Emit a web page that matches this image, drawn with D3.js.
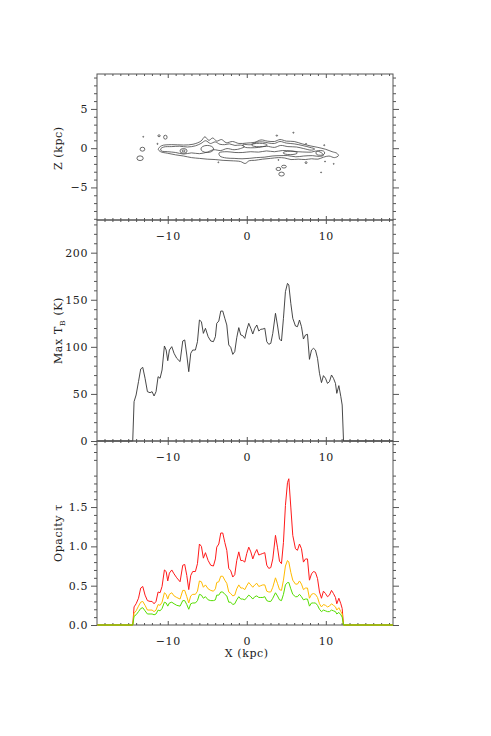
<!DOCTYPE html>
<html>
<head>
<meta charset="utf-8">
<script src="https://cdn.jsdelivr.net/npm/d3@7"></script>
<style>
    body { margin: 0; background: #fff; }
    svg text { font-family: "DejaVu Serif", "Liberation Serif", serif; fill: #222; letter-spacing: 0.6px; }
</style>
</head>
<body>
<div id="chart"></div>
<script>
// radius along the disc (kpc)
const xKpc = [-18.9,
    -14.43, -14.26, -14.0, -13.7, -13.42, -13.16, -12.87, -12.57, -12.24, -11.98,
    -11.73, -11.48, -11.22, -10.97, -10.72, -10.42, -10.2, -10.0, -9.79, -9.49,
    -9.2, -8.86, -8.44, -8.1, -7.85, -7.59, -7.34, -7.09, -6.84, -6.5,
    -6.24, -5.99, -5.74, -5.49, -5.23, -4.89, -4.56, -4.22, -3.97, -3.8,
    -3.54, -3.29, -3.04, -2.78, -2.53, -2.28, -2.03, -1.77, -1.52, -1.27,
    -1.01, -0.76, -0.51, -0.25, 0, 0.25, 0.51, 0.76, 1.01, 1.27,
    1.52, 1.77, 2.03, 2.28, 2.53, 2.78, 3.04, 3.29, 3.63, 3.88,
    4.14, 4.39, 4.64, 4.89, 5.15, 5.32, 5.57, 5.82, 6.16, 6.41,
    6.67, 6.92, 7.17, 7.43, 7.68, 7.93, 8.19, 8.44, 8.69, 8.95,
    9.2, 9.45, 9.7, 9.96, 10.21, 10.46, 10.72, 10.97, 11.22, 11.39,
    11.65, 11.9, 12.07, 12.24,
    18.5];

// max brightness temperature (K)
const maxTb = [0,
    0, 41.8, 48.9, 63, 76.5, 78.2, 66.6, 52.4, 51.3, 52.4,
    47.8, 52.4, 68.3, 66.6, 75.4, 100.9, 96.6, 85.3, 96.6, 100.2,
    93.1, 87.8, 84.3, 106.2, 107.3, 91.3, 73.6, 93.1, 96.6, 96.6,
    105.5, 128.5, 126.7, 114.3, 119.7, 110.8, 106.2, 105.5, 110.8, 125,
    127.4, 138, 138, 130.3, 123.2, 102, 99.5, 92, 94.9, 109.7,
    120.4, 112.6, 111.9, 109, 117.9, 125, 119.7, 113.6, 119.7, 123.2,
    116.8, 118.6, 118.9, 119.7, 105.5, 102.7, 103.7, 114.3, 135.6, 123.2,
    108.3, 106.2, 130.3, 158.6, 167.4, 165.7, 146.2, 130.3, 122.1, 121.4,
    128.5, 121.4, 108.3, 112.6, 113.3, 86.7, 96.6, 98.4, 96.6, 87.8,
    71.9, 62, 69.4, 66.6, 61.2, 63, 70.1, 66.6, 61.2, 50.6,
    58.8, 47.1, 38.2, 0,
    0];

// opacity, three cases
const tauRed = [0,
    0, 0.23, 0.27, 0.34, 0.47, 0.49, 0.38, 0.31, 0.30, 0.30,
    0.27, 0.30, 0.42, 0.41, 0.49, 0.70, 0.68, 0.56, 0.66, 0.70,
    0.65, 0.60, 0.55, 0.76, 0.77, 0.63, 0.45, 0.63, 0.68, 0.68,
    0.78, 1.03, 1.00, 0.85, 0.92, 0.82, 0.76, 0.75, 0.84, 0.99,
    1.03, 1.17, 1.17, 1.05, 0.95, 0.72, 0.69, 0.61, 0.64, 0.82,
    0.93, 0.82, 0.82, 0.80, 0.91, 0.99, 0.93, 0.84, 0.91, 0.96,
    0.89, 0.90, 0.91, 0.92, 0.76, 0.72, 0.73, 0.84, 1.14, 0.99,
    0.81, 0.78, 1.05, 1.52, 1.81, 1.86, 1.50, 1.14, 0.97, 0.95,
    1.03, 0.97, 0.80, 0.84, 0.84, 0.57, 0.65, 0.68, 0.67, 0.59,
    0.42, 0.34, 0.43, 0.40, 0.36, 0.38, 0.44, 0.40, 0.35, 0.27,
    0.34, 0.27, 0.21, 0,
    0];

const tauOrange = [0,
    0, 0.15, 0.18, 0.24, 0.29, 0.30, 0.25, 0.19, 0.19, 0.19,
    0.17, 0.19, 0.26, 0.25, 0.29, 0.41, 0.39, 0.33, 0.39, 0.41,
    0.37, 0.35, 0.33, 0.44, 0.44, 0.36, 0.28, 0.37, 0.39, 0.39,
    0.43, 0.56, 0.55, 0.48, 0.51, 0.46, 0.44, 0.43, 0.46, 0.54,
    0.55, 0.62, 0.62, 0.57, 0.53, 0.42, 0.40, 0.37, 0.38, 0.46,
    0.51, 0.47, 0.47, 0.45, 0.50, 0.54, 0.51, 0.48, 0.51, 0.53,
    0.49, 0.50, 0.51, 0.51, 0.43, 0.42, 0.42, 0.48, 0.60, 0.53,
    0.45, 0.44, 0.57, 0.75, 0.82, 0.80, 0.67, 0.57, 0.52, 0.52,
    0.56, 0.52, 0.45, 0.47, 0.47, 0.34, 0.39, 0.40, 0.39, 0.35,
    0.27, 0.23, 0.26, 0.25, 0.23, 0.24, 0.27, 0.25, 0.23, 0.19,
    0.22, 0.17, 0.14, 0,
    0];

const tauGreen = [0,
    0, 0.11, 0.13, 0.17, 0.21, 0.22, 0.18, 0.14, 0.14, 0.14,
    0.13, 0.14, 0.19, 0.18, 0.21, 0.29, 0.28, 0.24, 0.28, 0.29,
    0.27, 0.25, 0.24, 0.31, 0.31, 0.26, 0.20, 0.27, 0.28, 0.28,
    0.31, 0.39, 0.38, 0.34, 0.36, 0.32, 0.31, 0.31, 0.32, 0.38,
    0.38, 0.42, 0.42, 0.39, 0.37, 0.29, 0.29, 0.26, 0.27, 0.32,
    0.36, 0.33, 0.33, 0.32, 0.35, 0.38, 0.36, 0.33, 0.36, 0.37,
    0.35, 0.35, 0.35, 0.36, 0.31, 0.30, 0.30, 0.34, 0.41, 0.37,
    0.32, 0.31, 0.39, 0.51, 0.54, 0.54, 0.46, 0.39, 0.36, 0.36,
    0.39, 0.36, 0.32, 0.33, 0.33, 0.24, 0.28, 0.28, 0.28, 0.25,
    0.20, 0.17, 0.19, 0.18, 0.17, 0.17, 0.19, 0.18, 0.17, 0.14,
    0.16, 0.13, 0.10, 0,
    0];

// contour outlines of the disc, [x kpc, z kpc]
const contourOuter = [[-11.2, -0.15], [-10.8, 0.3], [-9.5, 0.45], [-8, 0.4], [-6.8, 0.5], [-5.8, 0.9],
    [-5.3, 1.45], [-4.8, 1.0], [-4.3, 1.3], [-3.8, 0.9], [-3.2, 1.1], [-2.6, 0.7], [-1.8, 0.85],
    [-1, 0.6], [0, 0.65], [1, 0.75], [1.8, 1.05], [2.6, 0.9], [3.5, 0.85], [4.2, 1.1], [5, 0.9],
    [6, 0.85], [7, 0.55], [8, 0.3], [9, 0.1], [10, -0.15], [10.8, -0.45], [11.4, -0.65],
    [11.6, -0.95], [11.1, -1.2], [10.4, -1.0], [9.7, -1.15], [9, -1.4], [8.2, -1.35], [7.4, -1.45],
    [6.5, -1.4], [5.6, -1.45], [4.8, -1.25], [4, -1.2], [3, -1.3], [2, -1.4], [1, -1.55],
    [0.3, -1.6], [-0.2, -1.95], [-0.8, -1.7], [-2, -1.6], [-3, -1.55], [-4, -1.45], [-5, -1.4],
    [-6, -1.3], [-7, -1.2], [-8, -1.0], [-9, -0.85], [-10, -0.65], [-10.9, -0.45]];

const contourLeft = [[-10.9, -0.1], [-10.5, 0.15], [-9.5, 0.2], [-8.5, 0.25], [-7.5, 0.15], [-6.5, 0.3],
    [-5.8, 0.6], [-5.2, 0.95], [-4.6, 0.6], [-4.0, 0.8], [-3.4, 0.5], [-2.8, 0.45], [-2.2, 0.55],
    [-1.5, 0.35], [-0.8, 0.4], [-0.3, 0.2], [-0.8, -0.05], [-1.6, -0.2], [-2.5, -0.05], [-3.3, -0.3],
    [-4.2, -0.2], [-5.0, -0.5], [-6.0, -0.7], [-7, -0.6], [-8, -0.75], [-9, -0.55], [-10, -0.45],
    [-10.8, -0.35]];

const contourUpper = [[-0.5, 0.45], [0.5, 0.45], [1.2, 0.75], [2, 0.8], [2.8, 0.65], [3.5, 0.6],
    [4.2, 0.85], [5, 0.65], [6, 0.55], [7, 0.35], [8, 0.1], [8.6, -0.1], [8.2, -0.25], [7.2, -0.05],
    [6.3, 0.15], [5.2, 0.2], [4.3, 0.35], [3.5, 0.1], [2.5, 0.25], [1.5, 0.1], [0.5, 0.05], [-0.3, 0.15]];

const contourLower = [[-3.5, -0.6], [-2.5, -0.45], [-1.5, -0.55], [-0.5, -0.55], [0.5, -0.45], [1.5, -0.5],
    [2.5, -0.35], [3.5, -0.45], [4.5, -0.3], [5.5, -0.35], [6.5, -0.45], [7.5, -0.5], [8.2, -0.5],
    [8.8, -0.35], [9.4, -0.55], [9.7, -0.9], [9.2, -1.05], [8.3, -0.95], [7.2, -1.0], [6.2, -1.1],
    [5.2, -0.95], [4.2, -0.95], [3.2, -1.0], [2.2, -1.15], [1.2, -1.2], [0.3, -1.3], [-0.6, -1.35],
    [-1.6, -1.3], [-2.6, -1.25], [-3.4, -1.0]];

// small closed contours: [x, z, half width, half height] in kpc
const blobs = [
    [-8.0, -0.35, 0.45, 0.3], [-8.0, -0.35, 0.18, 0.12], [-5.0, -0.1, 0.8, 0.45],
    [1.6, 0.4, 1.0, 0.22], [5.5, -0.6, 0.9, 0.22], [9.3, -0.6, 0.55, 0.3],
    [-13.2, -0.13, 0.3, 0.25], [-13.5, -1.28, 0.4, 0.3], [-10.3, 1.4, 0.22, 0.25],
    [-11.1, 1.58, 0.15, 0.12], [4.0, -2.65, 0.3, 0.2], [4.7, -2.35, 0.3, 0.18],
    [4.4, -3.3, 0.35, 0.25], [7.5, -1.84, 0.12, 0.12],
    [-13.1, 1.45, 0.06, 0.06], [-11.3, 0.55, 0.07, 0.07], [3.8, 1.6, 0.1, 0.07],
    [5.9, 1.97, 0.08, 0.06], [7.5, 0.55, 0.06, 0.06], [9.8, 0.38, 0.07, 0.07],
    [9.9, -1.7, 0.06, 0.06], [11.0, -2.0, 0.06, 0.06], [9.4, -3.08, 0.06, 0.06],
    [-3.6, -1.8, 0.06, 0.06], [4.0, -1.5, 0.06, 0.06]];

const xMajor = [-10, 0, 10];
const zMajor = [-5, 0, 5];
const tbMajor = [0, 50, 100, 150, 200];
const tauMajor = [0, 0.5, 1.0, 1.5];

const width = 491, height = 736;
const left = 97, right = 393;
const fontSize = "11px";

const svg = d3.select("#chart").append("svg")
    .attr("width", width)
    .attr("height", height);

const x = d3.scaleLinear().domain([-18.95, 18.5]).range([left, right]);
const z = d3.scaleLinear().domain([-9.15, 9.45]).range([220, 74]);
const yTb = d3.scaleLinear().domain([0, 234.7]).range([441, 220]);
const yTau = d3.scaleLinear().domain([0, 2.34]).range([625, 441]);

const xMinor = d3.range(-18, 19, 1).filter(v => v % 10 !== 0);
const minus = d => d3.format("")(d).replace("-", "\u2212");

function drawPanel(y, yMajorVals, yMinorVals, fmt) {
    const top = y.range()[1], bottom = y.range()[0];
    const g = svg.append("g").attr("class", "panel");

    // x ticks, inward on top and bottom, labels under the bottom edge
    g.append("g").attr("transform", `translate(0,${bottom})`)
        .call(d3.axisBottom(x).tickValues(xMajor).tickSize(-4).tickPadding(12).tickFormat(minus));
    g.append("g").attr("transform", `translate(0,${bottom})`)
        .call(d3.axisBottom(x).tickValues(xMinor).tickSize(-2).tickFormat(""));
    g.append("g").attr("transform", `translate(0,${top})`)
        .call(d3.axisTop(x).tickValues(xMajor).tickSize(-4).tickFormat(""));
    g.append("g").attr("transform", `translate(0,${top})`)
        .call(d3.axisTop(x).tickValues(xMinor).tickSize(-2).tickFormat(""));

    // y ticks point outward on both sides
    g.append("g").attr("transform", `translate(${left},0)`)
        .call(d3.axisLeft(y).tickValues(yMajorVals).tickSize(6).tickPadding(3).tickFormat(fmt));
    g.append("g").attr("transform", `translate(${left},0)`)
        .call(d3.axisLeft(y).tickValues(yMinorVals).tickSize(3).tickFormat(""));
    g.append("g").attr("transform", `translate(${right},0)`)
        .call(d3.axisRight(y).tickValues(yMajorVals).tickSize(6).tickFormat(""));
    g.append("g").attr("transform", `translate(${right},0)`)
        .call(d3.axisRight(y).tickValues(yMinorVals).tickSize(3).tickFormat(""));

    g.selectAll(".domain").remove();
    g.selectAll(".tick line").attr("stroke", "#555");
    g.selectAll(".tick text")
        .style("font-family", "'DejaVu Serif', serif")
        .style("font-size", fontSize)
        .attr("fill", "#222");

    g.append("rect")
        .attr("x", left)
        .attr("y", top)
        .attr("width", right - left)
        .attr("height", bottom - top)
        .attr("fill", "none")
        .attr("stroke", "#555")
        .attr("stroke-width", 1);
    return g;
}

// ---- top: contour map ----
drawPanel(z, zMajor, d3.range(-9, 10, 1).filter(v => v % 5 !== 0), minus);

const contourLine = d3.line()
    .x(d => x(d[0]))
    .y(d => z(d[1]))
    .curve(d3.curveCatmullRomClosed.alpha(0.5));

const contourG = svg.append("g");
[contourOuter, contourLeft, contourUpper, contourLower].forEach(c => {
    contourG.append("path")
        .attr("d", contourLine(c))
        .attr("fill", "none")
        .attr("stroke", "#444")
        .attr("stroke-width", 0.8);
});

contourG.selectAll("ellipse")
    .data(blobs)
    .enter().append("ellipse")
    .attr("cx", d => x(d[0]))
    .attr("cy", d => z(d[1]))
    .attr("rx", d => x(d[2]) - x(0))
    .attr("ry", d => z(0) - z(d[3]))
    .attr("fill", "none")
    .attr("stroke", "#444")
    .attr("stroke-width", 0.8);

// ---- middle: max brightness temperature ----
drawPanel(yTb, tbMajor, d3.range(10, 235, 10).filter(v => v % 50 !== 0), d3.format(""));

const tbLine = d3.line()
    .x((d, i) => x(xKpc[i]))
    .y(d => yTb(d));

svg.append("path")
    .attr("d", tbLine(maxTb))
    .attr("fill", "none")
    .attr("stroke", "#333")
    .attr("stroke-width", 0.9);

// ---- bottom: opacity ----
drawPanel(yTau, tauMajor, d3.range(1, 24).map(v => v / 10).filter(v => Math.round(v * 10) % 5 !== 0), d3.format(".1f"));

const tauLine = d3.line()
    .x((d, i) => x(xKpc[i]))
    .y(d => yTau(d));

const tauSeries = [
    { values: tauRed, color: "#ff1a1a" },
    { values: tauOrange, color: "#ffbb00" },
    { values: tauGreen, color: "#55dd00" }
];

svg.selectAll(".tau")
    .data(tauSeries)
    .enter().append("path")
    .attr("class", "tau")
    .attr("d", d => tauLine(d.values))
    .attr("fill", "none")
    .attr("stroke", d => d.color)
    .attr("stroke-width", 1);

// ---- axis titles ----
const titleX = 62;

svg.append("text")
    .attr("transform", `translate(${titleX},${z(0)}) rotate(-90)`)
    .attr("text-anchor", "middle")
    .style("font-size", fontSize)
    .text("Z (kpc)");

const tbTitle = svg.append("text")
    .attr("transform", `translate(${titleX},${(yTb(0) + yTb(234.7)) / 2}) rotate(-90)`)
    .attr("text-anchor", "middle")
    .style("font-size", fontSize);
tbTitle.append("tspan").text("Max T");
tbTitle.append("tspan").attr("dy", 3).style("font-size", "8px").text("B");
tbTitle.append("tspan").attr("dy", -3).text(" (K)");

svg.append("text")
    .attr("transform", `translate(${titleX},${(yTau(0) + yTau(2.34)) / 2}) rotate(-90)`)
    .attr("text-anchor", "middle")
    .style("font-size", fontSize)
    .text("Opacity \u03c4");

svg.append("text")
    .attr("x", x(0))
    .attr("y", 657)
    .attr("text-anchor", "middle")
    .style("font-size", fontSize)
    .text("X (kpc)");
</script>
</body>
</html>
